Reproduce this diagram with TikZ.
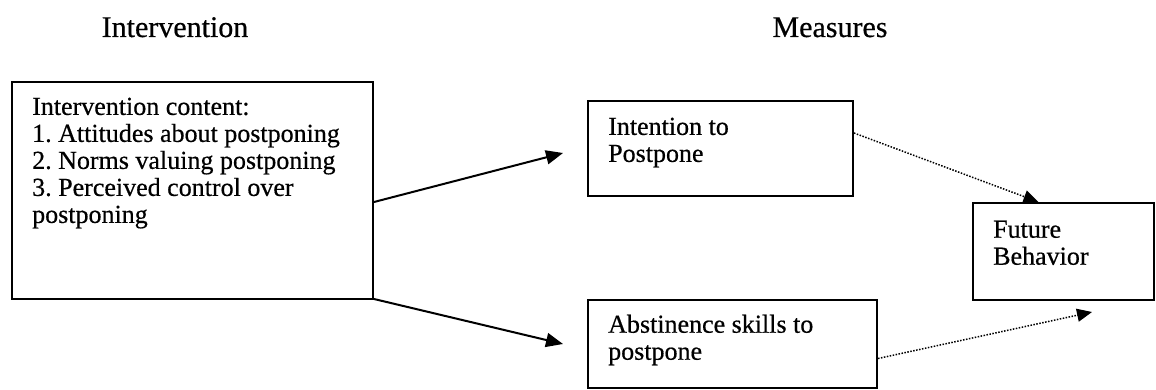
\documentclass[tikz,border=0pt]{standalone}
\usepackage{fontspec}
\setmainfont{Liberation Serif}
\newfontfamily\scanfont[FakeBold=0.5]{Liberation Serif}
\usetikzlibrary{arrows.meta}
\frenchspacing
\begin{document}
\begin{tikzpicture}[x=1pt,y=-1pt,
  box/.style={draw, line width=2pt, inner sep=0pt, anchor=north west},
  boxtext/.style={anchor=north west, inner sep=0pt, align=left, font=\scanfont\fontsize{26}{27}\selectfont\frenchspacing},
  titletext/.style={anchor=base, inner sep=0pt, font=\scanfont\fontsize{30}{36}\selectfont},
  solidarrow/.style={line width=2pt, -{Triangle[length=17pt,width=14pt]}},
  dotarrow/.style={line width=1.5pt, dash pattern=on 1.5pt off 1.5pt, -{Triangle[length=15pt,width=13pt]}}
]
\useasboundingbox (0,0) rectangle (1156,390);
\node[titletext] (t1) at (175,37) {Intervention};
\node[titletext] (t2) at (830,37) {Measures};
% boxes
\node[box, minimum width=361pt, minimum height=217pt] (lb) at (11,81) {};
\node[box, minimum width=265pt, minimum height=95pt] (ib) at (587,100) {};
\node[box, minimum width=181pt, minimum height=97pt] (fb) at (972,202) {};
\node[box, minimum width=289pt, minimum height=88pt] (ab) at (587,299) {};
% texts
\node[boxtext] (lbt) at (32,97.5) {Intervention content:\\1. Attitudes about postponing\\2. Norms valuing postponing\\3. Perceived control over\\postponing};
\node[boxtext] (ibt) at (608,117.5) {Intention to\\Postpone};
\node[boxtext] (fbt) at (993,220.5) {Future\\Behavior};
\node[boxtext] (abt) at (608,314.5) {Abstinence skills to\\postpone};
% free ends
\coordinate (e1) at (563,153);
\coordinate (e2) at (563,344);
\coordinate (e4) at (1092,312);
% connectors
\draw[solidarrow] ([yshift=-11.5pt]lb.east) -- (e1);
\draw[solidarrow] ([yshift=1pt]lb.south east) -- (e2);
\draw[dotarrow] ([yshift=15.5pt]ib.east) -- ([xshift=-25pt]fb.north);
\draw[dotarrow] ([yshift=-14.5pt]ab.east) -- (e4);
\end{tikzpicture}
\end{document}
